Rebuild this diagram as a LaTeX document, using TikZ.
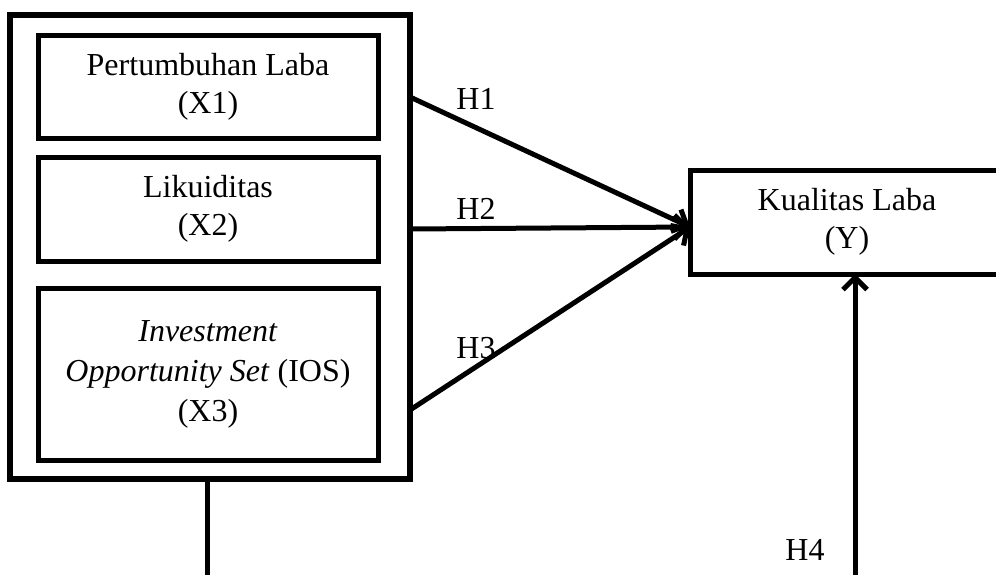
\documentclass[tikz,border=0pt]{standalone}
\usepackage{fontspec}
\setmainfont{Liberation Serif}
\usetikzlibrary{arrows.meta}
\begin{document}
\begin{tikzpicture}[x=1pt,y=-1pt,
  box/.style={draw, line width=5pt, inner sep=0pt, align=center,
    font=\fontsize{32}{38}\selectfont},
  conn/.style={line width=5pt, -{Straight Barb[length=12pt,width=24pt]}},
  lbl/.style={font=\fontsize{32}{38}\selectfont, inner sep=0pt}]
\useasboundingbox (0,0) rectangle (996,574);
\node[box, line width=5.5pt, minimum width=400pt, minimum height=464pt] (outer) at (210,247) {};
\node[box, minimum width=340pt, minimum height=103pt] (x1) at (208,86.5) {Pertumbuhan Laba\\(X1)};
\node[box, minimum width=340pt, minimum height=104pt] (x2) at (208,209) {Likuiditas\\(X2)};
\node[box, minimum width=340pt, minimum height=172pt, font=\fontsize{32}{40}\selectfont] (x3) at (208,374) {\textit{Investment}\\\textit{Opportunity Set} (IOS)\\(X3)};
\node[box, minimum width=314pt, minimum height=104pt] (y) at (847,222) {Kualitas Laba\\(Y)};
\coordinate (s1) at (410,97);
\coordinate (s2) at (410,229);
\coordinate (s3) at (410,410);
\coordinate (t) at (690,227);
\coordinate (b0) at (207,479);
\coordinate (b1) at (207,580);
\coordinate (h0) at (855,580);
\coordinate (h1) at (855,274);
\draw[conn] (s1) -- (t);
\draw[conn] (s2) -- (t);
\draw[conn] (s3) -- (t);
\draw[line width=5pt] (b0) -- (b1);
\draw[conn] (h0) -- (h1);
\node[lbl] (l1) at (476,99) {H1};
\node[lbl] (l2) at (476,209) {H2};
\node[lbl] (l3) at (476,348) {H3};
\node[lbl] (l4) at (805,550) {H4};
\end{tikzpicture}
\end{document}
